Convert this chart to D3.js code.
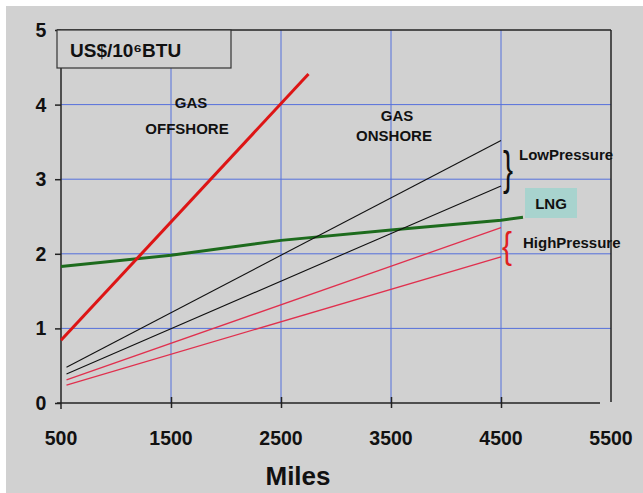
<!DOCTYPE html>
<html><head><meta charset="utf-8">
<script src="https://cdn.jsdelivr.net/npm/d3@7"></script>
<style>
html,body{margin:0;padding:0;background:#fff;}
svg{display:block;}
text{font-family:"Liberation Sans",Arial,sans-serif;font-weight:bold;fill:#111;}
</style></head>
<body>
<script>
// Data
const xTicks = [500, 1500, 2500, 3500, 4500, 5500];
const yTicks = [0, 1, 2, 3, 4, 5];
const offshoreMiles = [500, 2750];
const offshoreCost = [0.84, 4.41];
const lngMiles = [500, 1500, 2500, 3500, 4500, 4700];
const lngCost = [1.83, 1.98, 2.18, 2.32, 2.45, 2.49];
const lowMiles = [550, 4500];
const lowUpper = [0.48, 3.52];
const lowLower = [0.39, 2.91];
const highMiles = [550, 4500];
const highUpper = [0.31, 2.35];
const highLower = [0.24, 1.96];

const W = 643, H = 493;
const svg = d3.select("body").append("svg").attr("width", W).attr("height", H);
svg.append("rect").attr("x", 6).attr("y", 6).attr("width", W - 6).attr("height", H - 6).attr("fill", "#d1d1d1");

const x = d3.scaleLinear().domain([500, 5500]).range([61, 611]);
const y = d3.scaleLinear().domain([0, 5]).range([403, 30]);

// grid
const grid = svg.append("g").attr("stroke", "#5570dc").attr("stroke-width", 1);
yTicks.filter(v => v > 0 && v < 5).forEach(v => {
  grid.append("line").attr("x1", x(500)).attr("x2", x(5500)).attr("y1", y(v)).attr("y2", y(v));
});
xTicks.filter(v => v > 500 && v < 5500).forEach(v => {
  grid.append("line").attr("x1", x(v)).attr("x2", x(v)).attr("y1", y(5)).attr("y2", y(0));
});

// frame
const fr = svg.append("g").attr("stroke", "#222").attr("fill", "none");
fr.append("line").attr("x1", x(500) - 4).attr("x2", x(5500)).attr("y1", y(5)).attr("y2", y(5)).attr("stroke-width", 1.5);
fr.append("line").attr("x1", x(5500)).attr("x2", x(5500)).attr("y1", y(5)).attr("y2", y(0) - 1).attr("stroke-width", 1.5);

// axes
const xAxis = d3.axisBottom(x).tickValues(xTicks.slice(1, 5)).tickSize(6).tickFormat("");
const gx = svg.append("g").attr("transform", `translate(0,${y(0)})`).call(xAxis);
gx.select(".domain").remove();
gx.selectAll(".tick line").attr("y1", -6).attr("y2", 5).attr("stroke", "#222").attr("stroke-width", 1.5);
svg.append("line").attr("x1", x(500) - 4).attr("x2", x(5400)).attr("y1", y(0)).attr("y2", y(0)).attr("stroke", "#222").attr("stroke-width", 1.5);

const yAxis = d3.axisLeft(y).tickValues(yTicks).tickSize(6).tickFormat("");
const gy = svg.append("g").attr("transform", `translate(${x(500)},0)`).call(yAxis);
gy.select(".domain").remove();
gy.selectAll(".tick line").attr("stroke", "#222").attr("stroke-width", 1.5);
svg.append("line").attr("x1", x(500)).attr("x2", x(500)).attr("y1", y(5)).attr("y2", y(0) + 6).attr("stroke", "#222").attr("stroke-width", 1.5);

// tick labels
svg.append("g").selectAll("text").data(xTicks).join("text")
  .attr("x", d => x(d)).attr("y", 445).attr("text-anchor", "middle").attr("font-size", 19.5).text(d => d);
svg.append("g").selectAll("text").data(yTicks).join("text")
  .attr("x", 41).attr("y", d => y(d) + 7).attr("text-anchor", "middle").attr("font-size", 19.5).text(d => d);
svg.append("text").attr("x", 298).attr("y", 485).attr("text-anchor", "middle").attr("font-size", 26).text("Miles");

// title box
svg.append("rect").attr("x", 57).attr("y", 30).attr("width", 174).attr("height", 38)
  .attr("fill", "#d1d1d1").attr("stroke", "#333").attr("stroke-width", 1.2);
svg.append("text").attr("x", 70).attr("y", 57).attr("font-size", 19).text("US$/10\u2076BTU");

// lines
const line = d3.line().x(d => x(d[0])).y(d => y(d[1]));
const zip = (a, b) => a.map((v, i) => [v, b[i]]);
svg.append("path").attr("d", line(zip(lngMiles, lngCost))).attr("fill", "none").attr("stroke", "#1d6b1d").attr("stroke-width", 3);
svg.append("path").attr("d", line(zip(offshoreMiles, offshoreCost))).attr("fill", "none").attr("stroke", "#dd1515").attr("stroke-width", 3);
[lowUpper, lowLower].forEach(v => svg.append("path").attr("d", line(zip(lowMiles, v))).attr("fill", "none").attr("stroke", "#111").attr("stroke-width", 1.1));
[highUpper, highLower].forEach(v => svg.append("path").attr("d", line(zip(highMiles, v))).attr("fill", "none").attr("stroke", "#e0304e").attr("stroke-width", 1.3));

// annotations
const ann = (t, ax, ay, fs) => svg.append("text").attr("x", ax).attr("y", ay).attr("text-anchor", "middle").attr("font-size", fs || 15).text(t);
ann("GAS", 191, 108);
ann("OFFSHORE", 187, 134);
ann("GAS", 397, 121);
ann("ONSHORE", 394, 141);
svg.append("text").attr("x", 519).attr("y", 160).attr("font-size", 15).text("LowPressure");
svg.append("rect").attr("x", 525).attr("y", 188).attr("width", 52).attr("height", 30).attr("fill", "#a8d3ce");
ann("LNG", 551, 209, 15);
svg.append("text").attr("x", 523).attr("y", 248).attr("font-size", 15).text("HighPressure");

// braces
svg.append("text").attr("transform", "translate(503,184) scale(1,1.55)").attr("font-size", 30)
  .style("font-weight", "normal").attr("fill", "#111").text("}");
svg.append("text").attr("transform", "translate(502,258) scale(1,1.2)").attr("font-size", 30)
  .style("font-weight", "normal").style("fill", "#e02020").text("{");
</script>
</body></html>
